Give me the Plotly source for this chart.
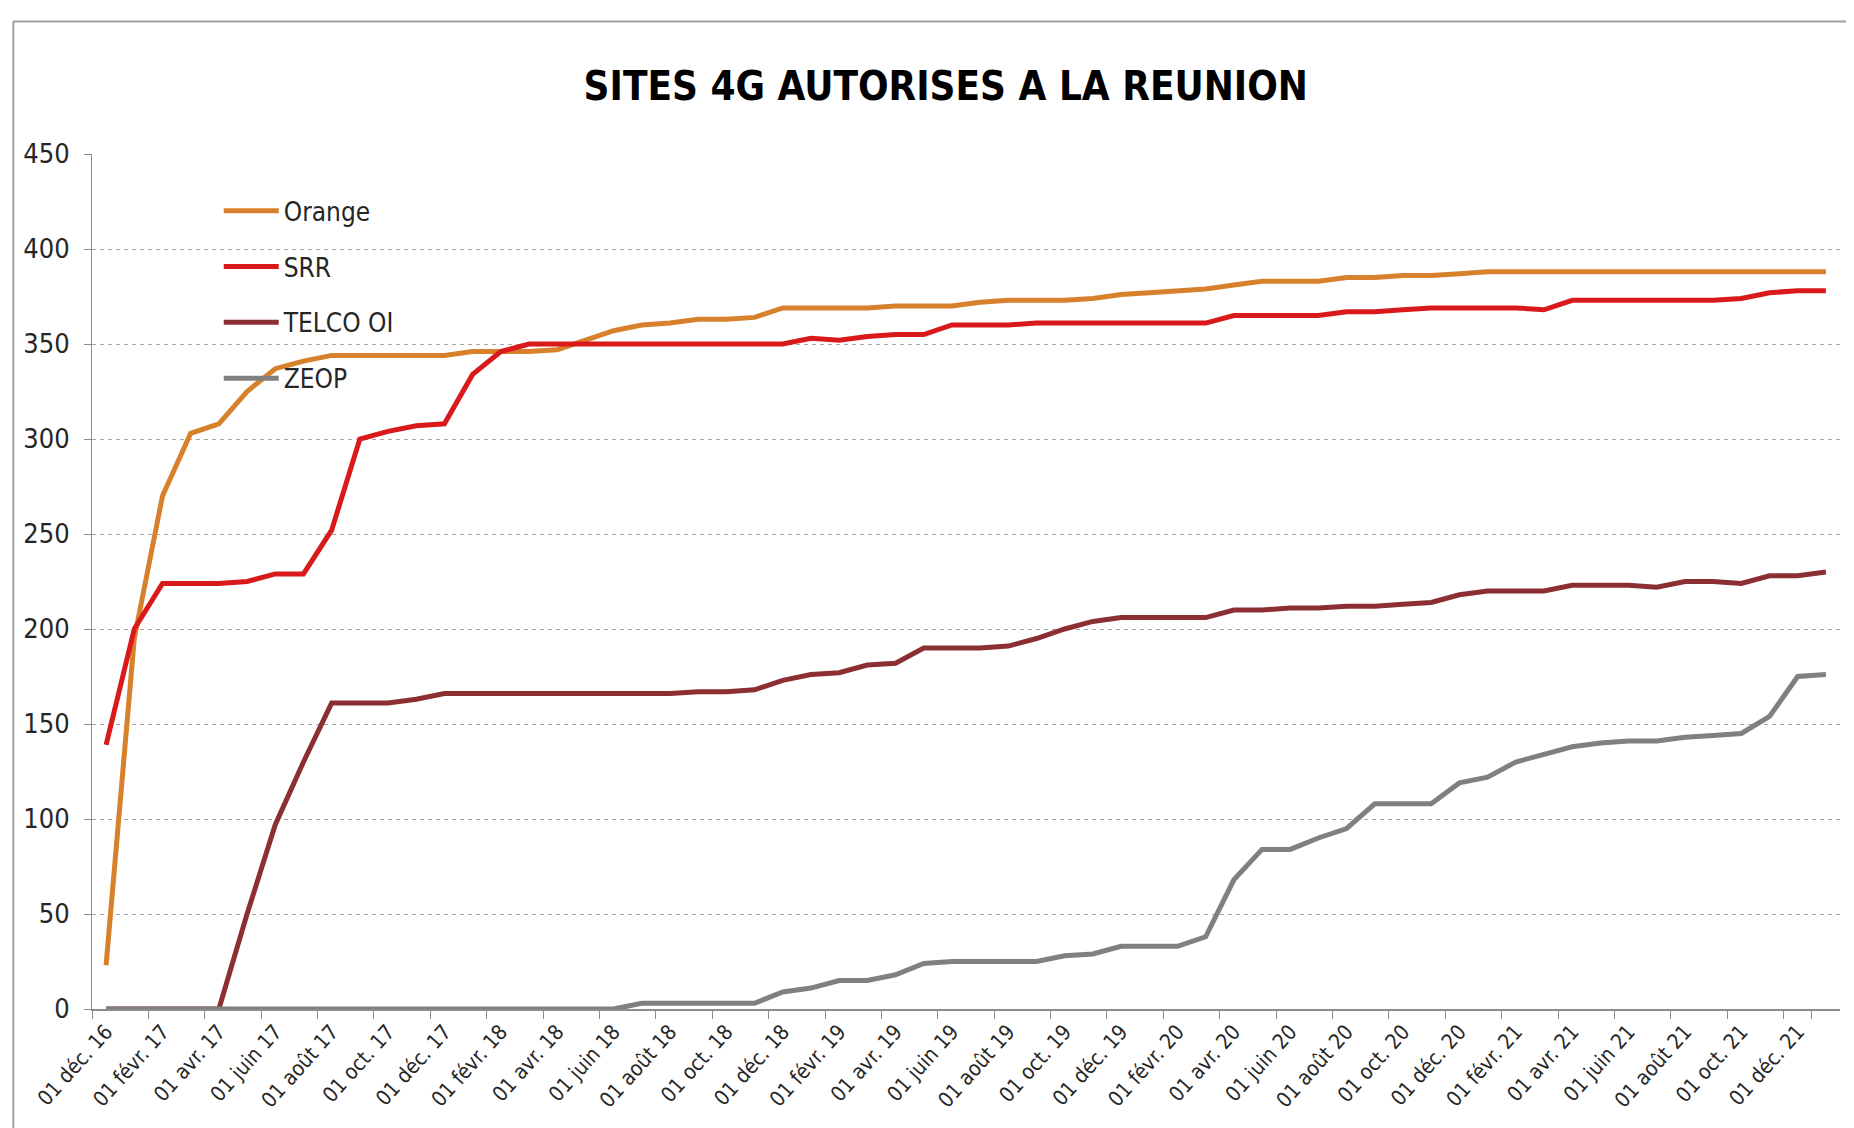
#!/usr/bin/env python3
"""Sites 4G autorisés à La Réunion - courbes mensuelles par opérateur."""

import plotly.graph_objs as go

# Mois (abréviations françaises) et période couverte : déc. 2016 -> janv. 2022
MOIS = ["janv.", "févr.", "mars", "avr.", "mai", "juin",
        "juil.", "août", "sept.", "oct.", "nov.", "déc."]
DEBUT_ANNEE = 2016
DEBUT_MOIS = 11  # index de déc.
NB_MOIS = 62

dates = []
for k in range(NB_MOIS):
    m = (DEBUT_MOIS + k) % 12
    a = DEBUT_ANNEE + (DEBUT_MOIS + k) // 12
    dates.append(f"01 {MOIS[m]} {str(a)[2:]}")

orange = [23, 195, 270, 303, 308, 325, 337, 341, 344, 344,
          344, 344, 344, 346, 346, 346, 347, 352, 357, 360,
          361, 363, 363, 364, 369, 369, 369, 369, 370, 370,
          370, 372, 373, 373, 373, 374, 376, 377, 378, 379,
          381, 383, 383, 383, 385, 385, 386, 386, 387, 388,
          388, 388, 388, 388, 388, 388, 388, 388, 388, 388,
          388, 388]

srr = [139, 200, 224, 224, 224, 225, 229, 229, 252, 300,
       304, 307, 308, 334, 346, 350, 350, 350, 350, 350,
       350, 350, 350, 350, 350, 353, 352, 354, 355, 355,
       360, 360, 360, 361, 361, 361, 361, 361, 361, 361,
       365, 365, 365, 365, 367, 367, 368, 369, 369, 369,
       369, 368, 373, 373, 373, 373, 373, 373, 374, 377,
       378, 378]

telco_oi = [0, 0, 0, 0, 0, 50, 97, 130, 161, 161,
            161, 163, 166, 166, 166, 166, 166, 166, 166, 166,
            166, 167, 167, 168, 173, 176, 177, 181, 182, 190,
            190, 190, 191, 195, 200, 204, 206, 206, 206, 206,
            210, 210, 211, 211, 212, 212, 213, 214, 218, 220,
            220, 220, 223, 223, 223, 222, 225, 225, 224, 228,
            228, 230]

zeop = [0, 0, 0, 0, 0, 0, 0, 0, 0, 0,
        0, 0, 0, 0, 0, 0, 0, 0, 0, 3,
        3, 3, 3, 3, 9, 11, 15, 15, 18, 24,
        25, 25, 25, 25, 28, 29, 33, 33, 33, 38,
        68, 84, 84, 90, 95, 108, 108, 108, 119, 122,
        130, 134, 138, 140, 141, 141, 143, 144, 145, 154,
        175, 176]

series = [
    ("Orange", orange, "#D8812C"),
    ("SRR", srr, "#DA1A1A"),
    ("TELCO OI", telco_oi, "#8C2F33"),
    ("ZEOP", zeop, "#808080"),
]

FONT = "Liberation Sans Narrow, DejaVu Sans Condensed, Arial Narrow, sans-serif"

fig = go.Figure()
for nom, valeurs, couleur in series:
    fig.add_trace(go.Scatter(
        x=dates, y=valeurs, name=nom, mode="lines",
        legendgroup=nom,
        line=dict(color=couleur, width=5),
    ))

# la page ajoute 8 px de marge autour de la figure
fig.update_layout(
    width=1846, height=1120,
    margin=dict(l=84, r=14, t=146, b=119),
    paper_bgcolor="white", plot_bgcolor="white",
    font=dict(family=FONT, color="#262626"),
    title=dict(
        text="<b>SITES 4G AUTORISES A LA REUNION</b>",
        font=dict(family=FONT, size=40, color="#000000"),
        x=0.508, xref="container", xanchor="center",
        y=1 - 78 / 1120, yref="container", yanchor="middle",
    ),
    showlegend=True,
    legend=dict(
        x=0.0725, y=0.961, xanchor="left", yanchor="top",
        bgcolor="rgba(0,0,0,0)", font=dict(family=FONT, size=26, color="#262626"),
        tracegroupgap=19, traceorder="grouped", itemwidth=55,
    ),
    shapes=[
        # cadre du graphique (bords gauche et haut visibles)
        dict(type="line", xref="paper", yref="paper",
             x0=-0.045, x1=-0.045, y0=-0.2, y1=1.155,
             line=dict(color="#A0A0A0", width=2)),
        dict(type="line", xref="paper", yref="paper",
             x0=-0.045, x1=1.1, y0=1.155, y1=1.155,
             line=dict(color="#A0A0A0", width=2)),
    ],
)

fig.update_xaxes(
    type="category",
    range=[-0.5, NB_MOIS - 0.5],
    tickmode="array", tickvals=dates[::2], ticktext=dates[::2],
    tickson="boundaries",
    ticks="outside", ticklen=8, tickcolor="#8C8C8C",
    tickangle=-48,
    tickfont=dict(family=FONT, size=21, color="#262626"),
    showgrid=False,
    showline=True, linecolor="#8C8C8C", linewidth=2,
    zeroline=False,
)

fig.update_yaxes(
    range=[0, 450], dtick=50,
    ticks="outside", ticklen=7, tickcolor="#8C8C8C",
    tickfont=dict(family=FONT, size=27, color="#262626"),
    ticklabelstandoff=9,
    showgrid=True, gridcolor="#A6A6A6", gridwidth=1, griddash="4px,4px",
    showline=True, linecolor="#8C8C8C", linewidth=1,
    zeroline=False,
)

fig.write_html("out.html")
